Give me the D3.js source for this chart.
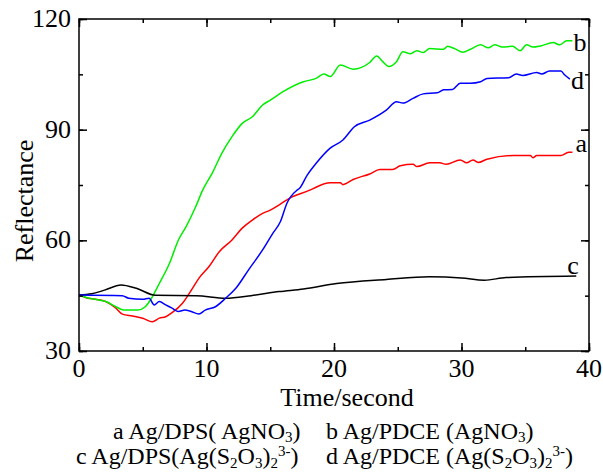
<!DOCTYPE html>
<html>
<head>
<meta charset="utf-8">
<script src="https://cdn.jsdelivr.net/npm/d3@7"></script>
<style>
  body { margin: 0; background: #fff; }
</style>
</head>
<body>
<div class="chart"></div>
<script>
// values: [time (s), reflectance]
var seriesA = [[0,45.2],[0.5,44.5],[1.3,44],[2.1,43.4],[2.9,41.6],[3.4,40],[4.2,39.5],[5,38.9],[5.75,37.9],[6.3,38.9],[6.8,39.3],[7.3,40.4],[8.1,42.9],[8.9,47],[9.4,49.7],[10.2,52.9],[11,56.9],[12,60.1],[12.8,63.3],[13.6,65.5],[14.4,67.3],[15,68.2],[15.7,69.6],[16.5,71.4],[18.1,73.6],[18.4,74.1],[19.7,75.6],[20.5,75.6],[20.7,75.1],[21.5,76.5],[22.8,78],[23.6,79.2],[24.6,79.2],[25.2,80.2],[26.2,80.6],[26.5,80],[27.5,81],[28.3,81],[28.8,80.6],[29.9,81.8],[30.4,81],[30.9,81.8],[31.3,81.1],[32,82],[34.1,83],[35.4,83],[35.6,82.4],[35.9,83],[37.8,83],[38.4,83.9],[38.7,83.9]]
var seriesB = [[0,45.2],[0.8,44.3],[1.6,43.8],[2.1,43.4],[2.9,42],[3.5,41.1],[4.6,41.1],[5.2,42],[5.75,44.7],[6.3,48.3],[7.1,53.8],[7.8,60.1],[8.4,63.7],[9.15,69.1],[9.7,73.6],[10.45,78.2],[11.2,83.6],[12,88.1],[12.8,91.7],[13.6,93.5],[14.4,96.7],[15,98],[16,100.3],[17.6,103],[18.6,103.9],[19.2,105.1],[19.7,104.4],[20.5,107.5],[21.5,106.4],[22.8,108.2],[23.35,110],[23.8,108.5],[24.3,107.1],[24.9,108.4],[25.4,111.1],[26,110.6],[26.5,111.4],[27,110.9],[27.5,112],[28.6,111.8],[28.9,112.6],[29.5,111.9],[30.1,111],[30.7,111.8],[31.5,113],[32.1,112.2],[32.6,113],[33.2,112.4],[34,112.6],[34.6,111.4],[35.1,113],[35.6,112.4],[36.2,112.7],[37.2,113.6],[37.7,113],[38.25,114.1],[38.7,114.1]]
var seriesC = [[0,45.2],[1,45.5],[2,46.5],[3.3,47.9],[4.5,47],[6,45.1],[9.2,45],[11.5,44.3],[13.5,45],[15.7,46.1],[17.6,46.8],[20.2,48.3],[24.1,49.4],[27.5,50.1],[30,49.8],[31.8,49.2],[33.5,49.9],[39,50.3]]
var seriesD = [[0,45.2],[3.4,45],[3.9,44.3],[5,44],[5.5,44.3],[5.9,42.5],[6.3,43.4],[6.8,42.5],[7.3,41.6],[7.8,40.7],[8.3,41.1],[8.8,40.7],[9.4,40],[9.9,41.1],[10.7,42],[11.5,44.3],[12.3,47],[13.3,52],[14.4,57.4],[15.2,61.9],[15.8,65.1],[16.3,70],[17.1,73.6],[17.3,74.1],[17.9,77.7],[18.6,80.9],[19.7,85],[20.7,87.2],[21.6,90.8],[22.8,92.6],[24.1,95.3],[24.9,97.6],[25.4,97.2],[26.2,98.5],[27,99.7],[28.1,100],[28.6,100.8],[29.3,100.9],[29.9,102.6],[30.7,102.6],[31.5,103],[32,103.9],[33.7,104.1],[34.3,105.1],[34.8,104.7],[35.9,105.5],[36.3,105.1],[36.9,105.9],[37.8,105.9],[38.1,104.8],[38.5,103.7]]

var curveLabels = ['a', 'b', 'c', 'd']
var curveColors = ['#ff0000', '#00ee00', '#000000', '#0000ff']
var xTicks = [0, 10, 20, 30, 40]
var yTicks = [30, 60, 90, 120]

var width = 603
var height = 475
var margin = { left: 79, right: 14, top: 19, bottom: 124 }
var serif = "'Liberation Serif', 'Times New Roman', serif"

var svg = d3.select('.chart')
  .append('svg')
  .attr('width', width)
  .attr('height', height)

var x = d3.scaleLinear().domain([0, 40]).range([margin.left, width - margin.right])
var y = d3.scaleLinear().domain([30, 120]).range([height - margin.bottom, margin.top])

var line = d3.line()
  .x(function(d) { return x(d[0]) })
  .y(function(d) { return y(d[1]) })
  .curve(d3.curveMonotoneX)

var allSeries = [seriesA, seriesB, seriesC, seriesD]

// curves
svg.append('g')
  .selectAll('path')
  .data(allSeries)
  .enter()
  .append('path')
  .attr('d', line)
  .attr('fill', 'none')
  .attr('stroke', function(d, i) { return curveColors[i] })
  .attr('stroke-width', 1.5)

// end labels next to each curve
var labelNudge = { a: [3, 0], b: [1, 10], c: [-9, -2], d: [1, 10] }
svg.append('g')
  .selectAll('text')
  .data(allSeries)
  .enter()
  .append('text')
  .attr('x', function(d, i) { return x(d[d.length - 1][0]) + labelNudge[curveLabels[i]][0] })
  .attr('y', function(d, i) { return y(d[d.length - 1][1]) + labelNudge[curveLabels[i]][1] })
  .style('font-family', serif)
  .style('font-size', '26px')
  .text(function(d, i) { return curveLabels[i] })

// axes, ticks pointing inward, on all four sides
var xMinor = d3.range(0, 41, 5)
var yMinor = d3.range(30, 121, 15)

function ticks(axis, pos, vals, size) {
  svg.append('g')
    .attr('transform', pos)
    .call(axis.tickValues(vals).tickSize(size).tickFormat(''))
}
ticks(d3.axisTop(x), 'translate(0,' + y(30) + ')', xMinor, 4)
ticks(d3.axisTop(x), 'translate(0,' + y(30) + ')', xTicks, 8)
ticks(d3.axisBottom(x), 'translate(0,' + y(120) + ')', xMinor, 4)
ticks(d3.axisBottom(x), 'translate(0,' + y(120) + ')', xTicks, 8)
ticks(d3.axisRight(y), 'translate(' + x(0) + ',0)', yMinor, 4)
ticks(d3.axisRight(y), 'translate(' + x(0) + ',0)', yTicks, 8)
ticks(d3.axisLeft(y), 'translate(' + x(40) + ',0)', yMinor, 4)
ticks(d3.axisLeft(y), 'translate(' + x(40) + ',0)', yTicks, 8)

svg.selectAll('.domain').remove()
svg.selectAll('.tick line').attr('stroke', '#000').attr('stroke-width', 1.5)

svg.append('rect')
  .attr('x', x(0))
  .attr('y', y(120))
  .attr('width', x(40) - x(0))
  .attr('height', y(30) - y(120))
  .attr('fill', 'none')
  .attr('stroke', '#000')
  .attr('stroke-width', 1.5)

// tick labels
svg.append('g')
  .selectAll('text')
  .data(xTicks)
  .enter()
  .append('text')
  .attr('x', function(d) { return x(d) })
  .attr('y', y(30) + 26)
  .attr('text-anchor', 'middle')
  .style('font-family', serif)
  .style('font-size', '26px')
  .text(function(d) { return d })

svg.append('g')
  .selectAll('text')
  .data(yTicks)
  .enter()
  .append('text')
  .attr('x', x(0) - 8)
  .attr('y', function(d) { return y(d) + 8 })
  .attr('text-anchor', 'end')
  .style('font-family', serif)
  .style('font-size', '26px')
  .text(function(d) { return d })

// axis titles
svg.append('text')
  .attr('x', 347)
  .attr('y', 406)
  .attr('text-anchor', 'middle')
  .style('font-family', serif)
  .style('font-size', '26px')
  .text('Time/second')

svg.append('text')
  .attr('transform', 'translate(33,201)rotate(-90)')
  .attr('text-anchor', 'middle')
  .style('font-family', serif)
  .style('font-size', '26px')
  .text('Reflectance')

// legend text under the axis title; each part: [text, dy, small?]
function legendItem(px, py, parts) {
  var t = svg.append('text')
    .attr('x', px)
    .attr('y', py)
    .style('font-family', serif)
    .style('font-size', '24px')
  parts.forEach(function(p) {
    var s = t.append('tspan').attr('dy', p[1]).text(p[0])
    if (p[2]) s.style('font-size', '15px')
  })
}

legendItem(113, 439, [['a Ag/DPS( AgNO', 0], ['3', 3, 1], [')', -3]])
legendItem(326, 439, [['b Ag/PDCE (AgNO', 0], ['3', 3, 1], [')', -3]])
legendItem(76, 464, [['c Ag/DPS(Ag(S', 0], ['2', 4, 1], ['O', -4], ['3', 4, 1], [')', -4], ['2', 4, 1], ['3-', -12, 1], [')', 8]])
legendItem(326, 464, [['d Ag/PDCE (Ag(S', 0], ['2', 4, 1], ['O', -4], ['3', 4, 1], [')', -4], ['2', 4, 1], ['3-', -12, 1], [')', 8]])
</script>
</body>
</html>
